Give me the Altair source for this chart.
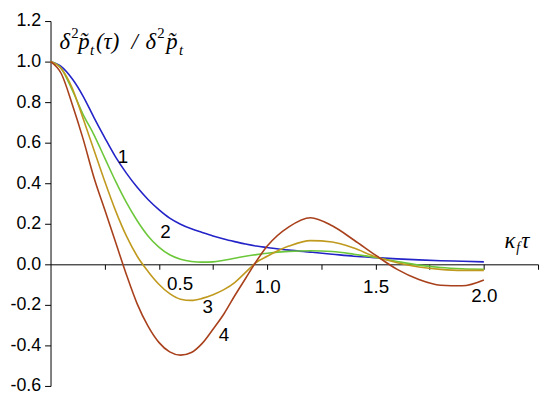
import altair as alt
import pandas as pd

tau = [0, 0.05, 0.1, 0.15, 0.2, 0.25, 0.3, 0.35, 0.4, 0.45, 0.5, 0.55, 0.6, 0.65,
       0.7, 0.75, 0.8, 0.85, 0.9, 0.95, 1.0, 1.1, 1.2, 1.3, 1.4, 1.5, 1.6, 1.7,
       1.8, 1.9, 2.0]

curve1 = [1.0, 0.975, 0.915, 0.83, 0.725, 0.625, 0.53, 0.45, 0.38, 0.32, 0.27,
          0.228, 0.198, 0.175, 0.157, 0.14, 0.125, 0.112, 0.10, 0.09, 0.083,
          0.07, 0.06, 0.05, 0.04, 0.033, 0.027, 0.022, 0.018, 0.015, 0.012]
curve2 = [1.0, 0.965, 0.86, 0.74, 0.64, 0.525, 0.41, 0.305, 0.215, 0.14, 0.085,
          0.047, 0.025, 0.014, 0.011, 0.012, 0.02, 0.03, 0.04, 0.048, 0.055,
          0.064, 0.067, 0.063, 0.05, 0.034, 0.014, -0.004, -0.016, -0.022, -0.024]
curve3 = [1.0, 0.965, 0.87, 0.72, 0.565, 0.41, 0.265, 0.14, 0.04, -0.035, -0.098,
          -0.145, -0.172, -0.178, -0.168, -0.15, -0.125, -0.09, -0.04, 0.01, 0.04,
          0.09, 0.117, 0.11, 0.08, 0.037, 0.008, -0.013, -0.025, -0.03, -0.03]
curve4 = [1.0, 0.94, 0.79, 0.62, 0.43, 0.27, 0.11, -0.05, -0.195, -0.305, -0.385,
          -0.432, -0.448, -0.435, -0.39, -0.32, -0.245, -0.155, -0.07, 0.015, 0.09,
          0.185, 0.23, 0.19, 0.12, 0.045, -0.025, -0.075, -0.103, -0.106, -0.077]

curve_names = ["1", "2", "3", "4"]
colors = ["#2323c8", "#6cc83a", "#c09a1e", "#a8401c"]

label_tau = [0.334, 0.53, 0.725, 0.80]
label_val = [0.527, 0.161, -0.21, -0.351]

x_ticks = [0.25, 0.5, 0.75, 1.0, 1.25, 1.5, 1.75, 2.0, 2.25]
y_ticks = [round(-0.6 + 0.1 * i, 1) for i in range(19)]

rows = []
for name, vals in zip(curve_names, [curve1, curve2, curve3, curve4]):
    for t, v in zip(tau, vals):
        rows.append({"tau": t, "val": v, "curve": name})
df = pd.DataFrame(rows)
lab_df = pd.DataFrame({"tau": label_tau, "val": label_val, "txt": curve_names})

x_scale = alt.Scale(domain=[0, 2.25], nice=False, zero=False)
y_scale = alt.Scale(domain=[-0.6, 1.2], nice=False, zero=False)

x_axis = alt.Axis(
    values=x_ticks, orient="bottom", offset=-123, title=None, grid=False,
    tickSize=5, tickColor="black", domainColor="black", domainWidth=1, tickWidth=1,
    labelFont="Liberation Sans", labelFontSize=19, labelColor="black",
    labelExpr="(datum.value == 0.5 || datum.value == 1 || datum.value == 1.5 || datum.value == 2) ? format(datum.value, '.1f') : ''",
    labelPadding={"condition": [{"test": "datum.value == 2", "value": 18},
                                {"test": "datum.value == 0.5", "value": 5}],
                  "value": 8},
    labelOffset={"condition": {"test": "datum.value == 0.5", "value": 21}, "value": 0},
    labelFlush=False, labelOverlap=False,
)
y_axis = alt.Axis(
    values=y_ticks, title=None, grid=False,
    tickSize=6, tickColor="black", domainColor="black", domainWidth=1, tickWidth=1,
    labelFont="Liberation Sans", labelFontSize=18, labelColor="black", labelPadding=4,
    labelExpr="abs(round(datum.value * 10)) % 2 == 0 ? replace(format(datum.value, '.1f'), '\u2212', '-') : ''",
    labelFlush=False, labelOverlap=False,
)

lines = alt.Chart(df).mark_line(strokeWidth=1.6, interpolate="monotone").encode(
    x=alt.X("tau:Q", scale=x_scale, axis=x_axis),
    y=alt.Y("val:Q", scale=y_scale, axis=y_axis),
    color=alt.Color("curve:N", scale=alt.Scale(domain=curve_names, range=colors), legend=None),
)

labels = alt.Chart(lab_df).mark_text(
    font="Liberation Sans", fontSize=19, color="black", align="center", baseline="middle"
).encode(
    x=alt.X("tau:Q", scale=x_scale),
    y=alt.Y("val:Q", scale=y_scale),
    text="txt:N",
)


def txt(s, x, y, size=23, style="italic"):
    return alt.Chart(pd.DataFrame({"s": [s]})).mark_text(
        text=s, font="Liberation Serif", fontSize=size, fontStyle=style,
        align="left", baseline="alphabetic", color="black"
    ).encode(x=alt.value(x), y=alt.value(y))


title_parts = [
    txt("δ", 9, 28),
    txt("2", 21, 17, 15, "normal"),
    txt("p\u0303", 28, 28),
    txt("t", 40, 34, 15),
    txt("(τ)", 46, 28),
    txt("/", 82, 28),
    txt("δ", 96, 28),
    txt("2", 108, 17, 15, "normal"),
    txt("p\u0303", 117, 28),
    txt("t", 130, 34, 15),
    txt("κ", 459, 229),
    txt("f", 471, 234, 14),
    txt("τ", 476, 229),
]

chart = alt.layer(lines, labels, *title_parts).properties(
    width=493, height=369,
    autosize="none",
    padding={"left": 43, "top": 11, "right": 4, "bottom": 12},
).configure_view(stroke=None)

chart.save("out.html", embed_options={"renderer": "svg", "actions": False})
